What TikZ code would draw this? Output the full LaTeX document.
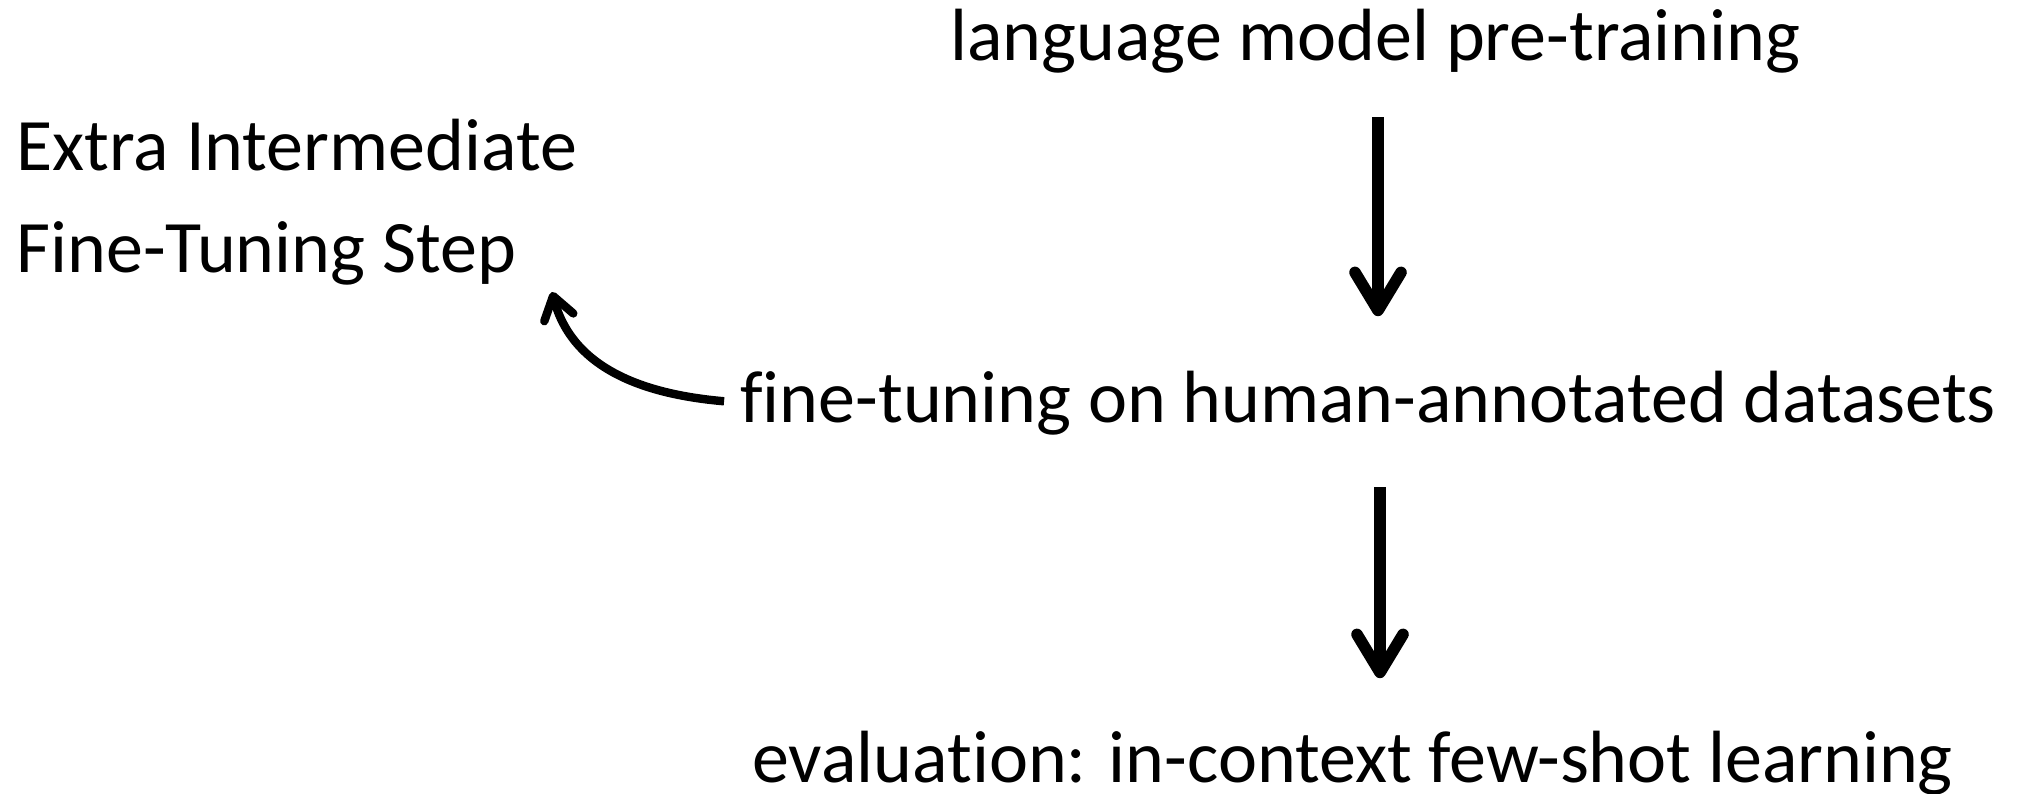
\documentclass[tikz,border=0pt]{standalone}
\usepackage{fontspec}
\setmainfont[Ligatures=NoCommon]{Carlito}
\usepackage{tikz}
\usetikzlibrary{arrows.meta}

\begin{document}
\begin{tikzpicture}[x=0.5pt, y=-0.5pt,
    every node/.style={inner sep=0pt, font=\fontsize{37}{51}\selectfont},
    flow/.style={line width=5.8pt, -{Straight Barb[length=19pt, width=23pt, round]}},
    back/.style={line width=4.2pt, -{Straight Barb[length=11pt, width=15pt, round]}}]
    \useasboundingbox (0,0) rectangle (2022,793);
    \node[anchor=base west] (pre) at (950,60) {language model pre-training};
    \node[anchor=base west] (ft) at (740,422) {fine-tuning on human-annotated datasets};
    \node[anchor=base west] (eval) at (752,782) {evaluation: in-context few-shot learning};
    \node[anchor=base west, align=left] (extra) at (16,272) {Extra Intermediate\\Fine-Tuning Step};
    \coordinate (tip) at (552,292);
    \draw[flow, shorten <=22pt, shorten >=27pt] (pre.south -| 1378,0) -- (ft.north -| 1378,0);
    \draw[flow, shorten <=26pt, shorten >=26pt] (ft.south -| 1380,0) -- (eval.north -| 1380,0);
    \draw[back, shorten <=8pt] (ft.west) to[out=175, in=-75] (tip);
\end{tikzpicture}
\end{document}
